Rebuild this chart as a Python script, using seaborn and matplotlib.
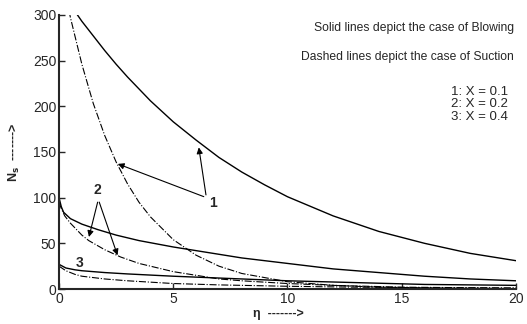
import matplotlib
matplotlib.use('Agg')
import matplotlib.pyplot as plt
import seaborn as sns

sns.set_style('ticks')
plt.rcParams['font.family'] = ['Liberation Sans', 'DejaVu Sans']

### curve data (eta, Ns)

# 1: X = 0.1
eta_1b = [0.5, 1, 1.5, 2, 2.5, 3, 4, 5, 6, 7, 8, 9, 10, 12, 14, 16, 18, 20]
ns_1b = [311, 293, 277, 261, 246, 232, 206, 183, 163, 144, 128, 114, 101, 80, 63, 50, 39, 31]
eta_1s = [0.3, 0.5, 1, 1.5, 2, 2.5, 3, 3.5, 4, 5, 6, 7, 8, 10, 12, 14, 17, 20]
ns_1s = [321, 297, 246, 203, 168, 139, 115, 95, 79, 54, 37, 25, 17, 8, 4, 2, 1, 0.5]

# 2: X = 0.2
eta_2b = [0, 0.1, 0.2, 0.5, 1, 1.7, 2.5, 3.5, 5, 6, 7, 8, 10, 12, 14, 16, 18, 20]
ns_2b = [100, 90, 84, 77, 71, 65, 59, 53, 46, 42, 38, 34, 28, 22, 18, 14, 11, 9]
eta_2s = [0, 0.1, 0.25, 0.5, 1, 1.3, 2, 2.7, 3.5, 5, 6, 7, 8, 10, 12, 15, 20]
ns_2s = [95, 88, 80, 72, 59, 53, 43, 35, 28, 19, 15, 11, 9, 6, 4, 2, 1]

# 3: X = 0.4
eta_3b = [0, 0.3, 0.7, 1, 2, 3, 5, 7, 10, 13, 16, 20]
ns_3b = [27, 23, 21, 20, 18, 16.5, 14, 12, 9, 7, 5, 4]
eta_3s = [0, 0.3, 0.7, 1, 2, 3, 5, 7, 10, 13, 16, 20]
ns_3s = [25, 20, 16, 14, 11, 9, 6, 4.5, 3, 2, 1.5, 1]

fig = plt.figure(figsize=(5.27, 3.24), dpi=100)
ax = fig.add_axes([0.112, 0.108, 0.867, 0.846])

for x, y in [(eta_1b, ns_1b), (eta_2b, ns_2b), (eta_3b, ns_3b)]:
    sns.lineplot(x=x, y=y, ax=ax, color='black', linewidth=1.0)
for x, y in [(eta_1s, ns_1s), (eta_2s, ns_2s), (eta_3s, ns_3s)]:
    sns.lineplot(x=x, y=y, ax=ax, color='black', linewidth=0.8, linestyle='-.')

ax.set_xlim(0, 20)
ax.set_ylim(0, 300)
ax.set_xticks([0, 5, 10, 15, 20])
ax.set_yticks([0, 50, 100, 150, 200, 250, 300])
ax.tick_params(direction='in', labelsize=10, length=4, width=1, pad=2)
sns.despine(ax=ax)
for s in ['left', 'bottom']:
    ax.spines[s].set_linewidth(1.5)

ax.set_xlabel('η  ------->', fontsize=9, fontweight='bold', labelpad=2)
ax.xaxis.set_label_coords(0.48, -0.07)
ax.set_ylabel('N$_\\mathbf{s}$  ------->', fontsize=9, fontweight='bold', labelpad=6)
ax.yaxis.set_label_coords(-0.08, 0.5)

# notes
ax.text(19.9, 286, 'Solid lines depict the case of Blowing', ha='right', va='center', fontsize=8.7)
ax.text(19.9, 254, 'Dashed lines depict the case of Suction', ha='right', va='center', fontsize=8.7)
ax.text(19.65, 202, '1: X = 0.1\n2: X = 0.2\n3: X = 0.4', ha='right', va='center', fontsize=9.5,
        linespacing=1.1)

# curve labels with arrows
arr = dict(arrowstyle='-|>', color='black', lw=0.8, mutation_scale=9)
ax.annotate('', xy=(6.1, 158), xytext=(6.45, 100), arrowprops=arr)
ax.annotate('', xy=(2.46, 138), xytext=(6.45, 100), arrowprops=arr)
ax.text(6.75, 94, '1', fontsize=10, fontweight='bold', ha='center', va='center')

ax.annotate('', xy=(1.28, 54), xytext=(1.72, 98), arrowprops=arr)
ax.annotate('', xy=(2.6, 34), xytext=(1.72, 98), arrowprops=arr)
ax.text(1.67, 108, '2', fontsize=10, fontweight='bold', ha='center', va='center')

ax.text(0.92, 28, '3', fontsize=10, fontweight='bold', ha='center', va='center')

fig.savefig('out.png', dpi=100)
